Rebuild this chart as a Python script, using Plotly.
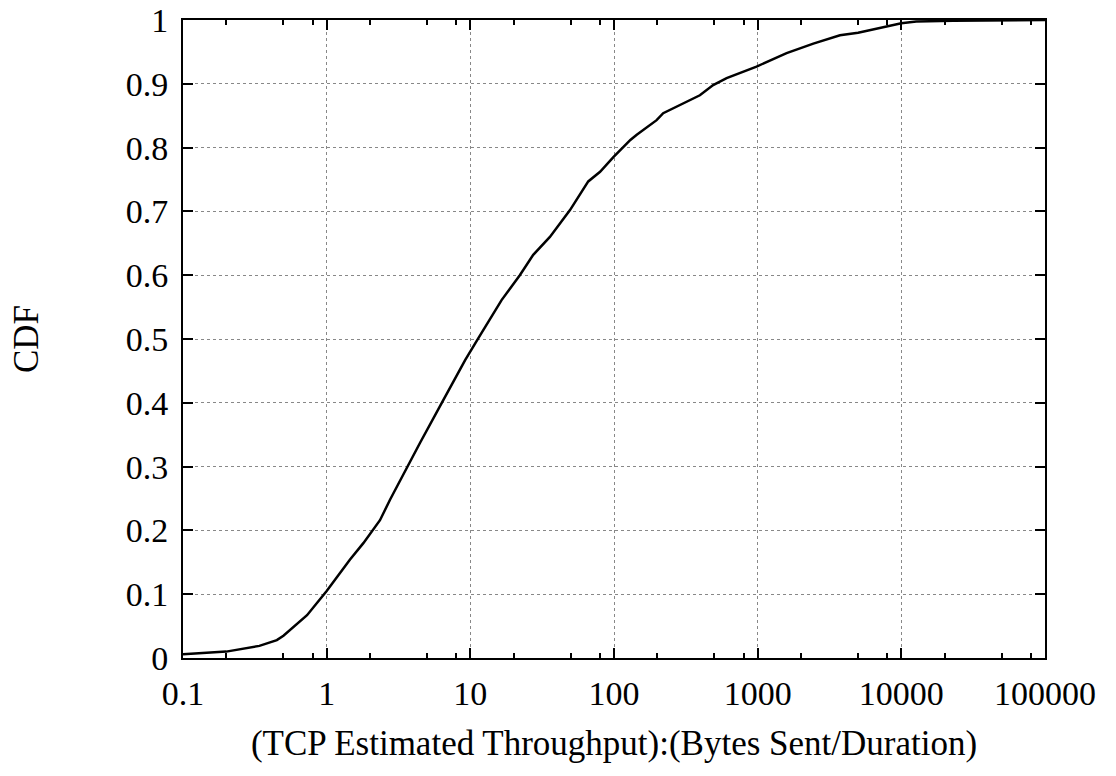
import plotly.graph_objects as go

# Empirical CDF of per-connection TCP throughput (bytes sent / duration)
throughput = [0.1, 0.2, 0.34, 0.45, 0.5, 0.73, 1.0, 1.45, 1.8, 2.1, 2.35, 2.76, 3.1,
              3.7, 4.46, 6.3, 7.2, 9.2, 11.35, 13.7, 16.5, 22.1, 27.4, 35.8, 49.4,
              66.2, 80, 99, 130, 144, 198, 220, 396, 490, 608, 982, 1590, 2440,
              3740, 5000, 7880, 10000, 12700, 22900, 100000]
cdf = [0.006, 0.010, 0.019, 0.028, 0.035, 0.067, 0.105, 0.154, 0.180, 0.200, 0.216,
       0.248, 0.270, 0.302, 0.337, 0.399, 0.423, 0.467, 0.501, 0.531, 0.561, 0.600,
       0.632, 0.660, 0.702, 0.747, 0.762, 0.785, 0.812, 0.820, 0.843, 0.854, 0.882,
       0.898, 0.909, 0.927, 0.948, 0.963, 0.976, 0.980, 0.990, 0.995, 0.9975,
       0.999, 1.0]

x_major = [0.1, 1, 10, 100, 1000, 10000, 100000]
x_major_text = ["0.1", "1", "10", "100", "1000", "10000", "100000"]
x_minor = [m * d for d in [0.1, 1, 10, 100, 1000, 10000] for m in (2, 5, 8)]
y_major = [i / 10 for i in range(11)]
y_major_text = ["0", "0.1", "0.2", "0.3", "0.4", "0.5", "0.6", "0.7", "0.8", "0.9", "1"]

FONT = "Liberation Serif"
FS = 34

fig = go.Figure()
fig.add_trace(go.Scatter(
    x=throughput, y=cdf, mode="lines",
    line=dict(color="black", width=2.5),
    showlegend=False,
))

fig.update_layout(
    width=1116, height=776,
    margin=dict(l=183, r=71, t=20, b=118),
    paper_bgcolor="white", plot_bgcolor="white",
    font=dict(family=FONT, size=FS, color="black"),
    xaxis=dict(
        type="log", range=[-1, 5], automargin=False,
        tickmode="array", tickvals=x_major, ticktext=x_major_text,
        ticks="inside", ticklen=10, tickwidth=1.5, tickcolor="black",
        showline=True, linecolor="black", linewidth=2, mirror="ticks",
        showgrid=True, gridcolor="#888888", gridwidth=1, griddash="dot",
        zeroline=False,
        minor=dict(tickvals=x_minor, ticks="inside", ticklen=5, tickwidth=1.5,
                   tickcolor="black", showgrid=False),
        title=dict(text="(TCP Estimated Throughput):(Bytes Sent/Duration)",
                   font=dict(family=FONT, size=35), standoff=20),
        tickfont=dict(family=FONT, size=FS),
        ticklabelstandoff=4,
    ),
    yaxis=dict(
        range=[0, 1], automargin=False,
        tickmode="array", tickvals=y_major, ticktext=y_major_text,
        ticks="inside", ticklen=10, tickwidth=1.5, tickcolor="black",
        showline=True, linecolor="black", linewidth=2, mirror="ticks",
        showgrid=True, gridcolor="#888888", gridwidth=1, griddash="dot",
        zeroline=False,
        title=dict(text="CDF", font=dict(family=FONT, size=35), standoff=76),
        tickfont=dict(family=FONT, size=FS),
        ticklabelstandoff=6,
    ),
)

fig.write_html("out.html")
